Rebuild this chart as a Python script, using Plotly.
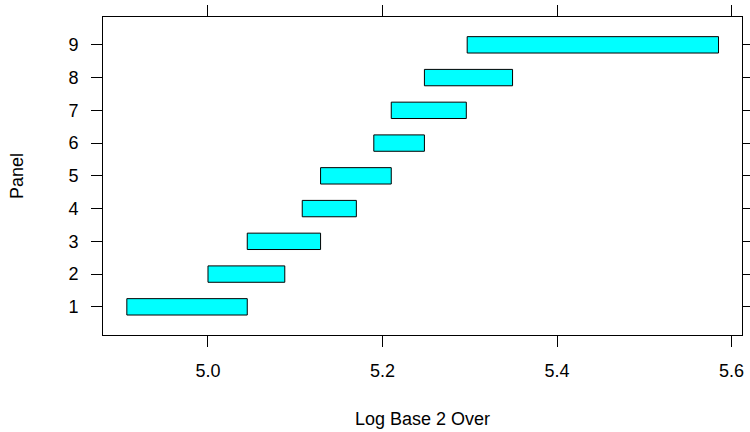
import plotly.graph_objects as go

panels = [1, 2, 3, 4, 5, 6, 7, 8, 9]
lower = [4.907, 5.000, 5.045, 5.108, 5.129, 5.190, 5.210, 5.248, 5.297]
upper = [5.045, 5.088, 5.129, 5.170, 5.210, 5.248, 5.296, 5.349, 5.585]
x_ticks = [5.0, 5.2, 5.4, 5.6]
x_tick_labels = ["5.0", "5.2", "5.4", "5.6"]

font_family = "Liberation Sans, Arial, Helvetica, sans-serif"
fsize = 18

fig = go.Figure()
fig.add_trace(go.Bar(
    y=panels,
    x=[u - l for l, u in zip(lower, upper)],
    base=lower,
    orientation="h",
    width=0.5,
    marker=dict(color="#00FFFF", line=dict(color="black", width=1)),
    hoverinfo="skip",
))

axis_common = dict(
    showline=True, linecolor="black", linewidth=1, mirror="ticks",
    ticks="outside", ticklen=11, tickcolor="black", tickwidth=1,
    showgrid=False, zeroline=False, automargin=False,
    tickfont=dict(family=font_family, size=fsize, color="black"),
)

fig.update_layout(
    width=750, height=432,
    margin=dict(l=103, r=8, t=17, b=97),
    plot_bgcolor="white", paper_bgcolor="white",
    showlegend=False,
    font=dict(family=font_family, size=fsize, color="black"),
    xaxis=dict(
        range=[4.8797, 5.6119],
        tickvals=x_ticks, ticktext=x_tick_labels,
        title=dict(text="Log Base 2 Over", standoff=32,
                   font=dict(family=font_family, size=fsize, color="black")),
        ticklabelstandoff=8,
        **axis_common,
    ),
    yaxis=dict(
        range=[0.14, 9.85],
        tickvals=panels, ticktext=[str(p) for p in panels],
        title=dict(text="Panel", standoff=40,
                   font=dict(family=font_family, size=fsize, color="black")),
        ticklabelstandoff=9,
        **axis_common,
    ),
)

fig.write_html("out.html")
